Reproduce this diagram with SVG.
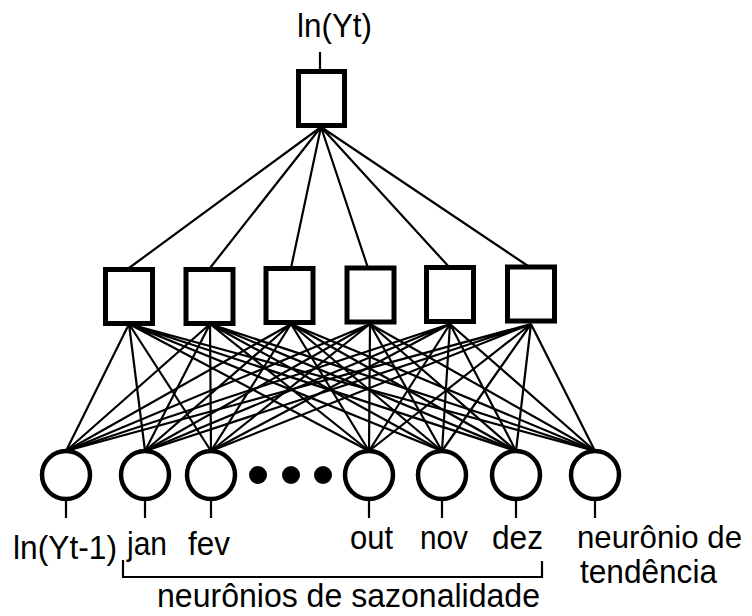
<svg xmlns="http://www.w3.org/2000/svg" width="752" height="616" viewBox="0 0 752 616">
<style>
.box{fill:#fff;stroke:#000;stroke-width:5}
.circ{fill:#fff;stroke:#000;stroke-width:4.5}
.ln{stroke:#000;stroke-width:2.2;fill:none}
.t{font-family:"Liberation Sans",Arial,sans-serif;font-size:34px;fill:#000}
</style>
<rect width="752" height="616" fill="#fff"/>
<g id="connectors">
<path class="ln" d="M320 52V70"/>
<path class="ln" d="M321 127L129 268M321 127L210 268M321 127L291 268M321 127L368 268M321 127L450 268M321 127L531 268"/>
<g id="h2i">
<path class="ln" d="M129 324L66 451M129 324L145 451M129 324L211 451M129 324L369 451M129 324L442 451M129 324L516 451M129 324L595 451"/>
<path class="ln" d="M210 324L66 451M210 324L145 451M210 324L211 451M210 324L369 451M210 324L442 451M210 324L516 451M210 324L595 451"/>
<path class="ln" d="M291 324L66 451M291 324L145 451M291 324L211 451M291 324L369 451M291 324L442 451M291 324L516 451M291 324L595 451"/>
<path class="ln" d="M370 324L66 451M370 324L145 451M370 324L211 451M370 324L369 451M370 324L442 451M370 324L516 451M370 324L595 451"/>
<path class="ln" d="M450 324L66 451M450 324L145 451M450 324L211 451M450 324L369 451M450 324L442 451M450 324L516 451M450 324L595 451"/>
<path class="ln" d="M531 324L66 451M531 324L145 451M531 324L211 451M531 324L369 451M531 324L442 451M531 324L516 451M531 324L595 451"/>
</g>
<path class="ln" d="M66 499V518M145 499V518M211 499V518M369 499V518M442 499V518M516 499V518M595 499V518"/>
<path class="ln" stroke-width="2.6" d="M123 560V577H542V561"/>
</g>
<g id="out"><rect class="box" x="298.5" y="71.5" width="46" height="54"/></g>
<g id="h1"><rect class="box" x="105.5" y="269.5" width="47" height="54"/></g>
<g id="h2"><rect class="box" x="186" y="269.5" width="47" height="54"/></g>
<g id="h3"><rect class="box" x="266" y="268.5" width="47" height="54"/></g>
<g id="h4"><rect class="box" x="347" y="268" width="47" height="54"/></g>
<g id="h5"><rect class="box" x="426.5" y="267.5" width="47" height="54"/></g>
<g id="h6"><rect class="box" x="507.5" y="267" width="47" height="54"/></g>
<g id="i1"><circle class="circ" cx="66" cy="475" r="24"/></g>
<g id="i2"><circle class="circ" cx="145" cy="475" r="24"/></g>
<g id="i3"><circle class="circ" cx="211" cy="475" r="24"/></g>
<g id="dots"><circle cx="258" cy="475" r="9"/><circle cx="291" cy="475" r="9"/><circle cx="323" cy="475" r="9"/></g>
<g id="i4"><circle class="circ" cx="369" cy="475" r="24"/></g>
<g id="i5"><circle class="circ" cx="442" cy="475" r="24"/></g>
<g id="i6"><circle class="circ" cx="516" cy="475" r="24"/></g>
<g id="i7"><circle class="circ" cx="595" cy="475" r="24"/></g>
<g id="labels">
<text class="t" x="297" y="37" textLength="75" lengthAdjust="spacingAndGlyphs">ln(Yt)</text>
<text class="t" x="13" y="559" textLength="104" lengthAdjust="spacingAndGlyphs">ln(Yt-1)</text>
<text class="t" x="127" y="555" textLength="40" lengthAdjust="spacingAndGlyphs">jan</text>
<text class="t" x="188" y="555" textLength="42" lengthAdjust="spacingAndGlyphs">fev</text>
<text class="t" x="350" y="549" textLength="43" lengthAdjust="spacingAndGlyphs">out</text>
<text class="t" x="420" y="549" textLength="48" lengthAdjust="spacingAndGlyphs">nov</text>
<text class="t" x="492" y="549" textLength="51" lengthAdjust="spacingAndGlyphs">dez</text>
<text class="t" x="577" y="548" style="font-size:31.5px" textLength="165" lengthAdjust="spacingAndGlyphs">neurônio de</text>
<text class="t" x="580" y="583" textLength="137" lengthAdjust="spacingAndGlyphs">tendência</text>
<text class="t" x="157" y="607" textLength="383" lengthAdjust="spacingAndGlyphs">neurônios de sazonalidade</text>
</g>
</svg>
